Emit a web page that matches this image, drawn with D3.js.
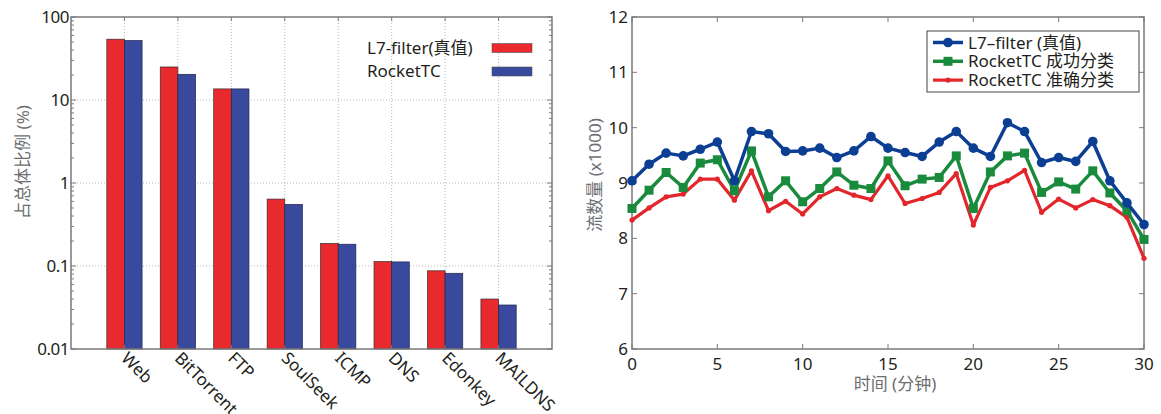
<!DOCTYPE html>
<meta charset="utf-8">
<style>
body { margin: 0; background: #fff; }
svg { font-family: "Noto Sans", "Noto Sans CJK SC", sans-serif; }
.frame { fill: none; stroke: #7a7a7a; stroke-width: 1.5; }
.tick-mark { stroke: #7a7a7a; stroke-width: 1; }
.grid { stroke: #b8b8b8; stroke-width: 1; stroke-dasharray: 1,2; }
.tlabel { fill: #231f20; font-size: 17px; }
.alabel { fill: #6d6e71; font-size: 17px; }
</style>
<script src="https://d3js.org/d3.v7.min.js"></script>
<svg id="chart" width="1161" height="414"></svg>
<script>
// left chart: share of traffic per protocol (log scale)
var protocols = ["Web", "BitTorrent", "FTP", "SoulSeek", "ICMP", "DNS", "Edonkey", "MAILDNS"];
var l7Share = [54, 25, 13.6, 0.64, 0.187, 0.113, 0.0875, 0.040];
var rocketShare = [52, 20.4, 13.6, 0.553, 0.183, 0.112, 0.0817, 0.0339];
var logTicks = [0.01, 0.1, 1, 10, 100];
var logTickLabels = ["0.01", "0.1", "1", "10", "100"];

// right chart: flow count over time (x1000)
var minutes = d3.range(0, 31);
var l7Flows = [9.04, 9.34, 9.54, 9.49, 9.61, 9.74, 9.04, 9.93, 9.89, 9.57, 9.58, 9.63, 9.46, 9.58, 9.84,
               9.63, 9.55, 9.48, 9.74, 9.93, 9.63, 9.48, 10.09, 9.93, 9.37, 9.46, 9.39, 9.75, 9.04, 8.64, 8.25];
var okFlows = [8.54, 8.87, 9.19, 8.92, 9.36, 9.42, 8.86, 9.58, 8.75, 9.04, 8.66, 8.90, 9.20, 8.96, 8.90,
               9.40, 8.95, 9.07, 9.10, 9.49, 8.54, 9.20, 9.49, 9.54, 8.83, 9.02, 8.89, 9.22, 8.82, 8.50, 7.98];
var exactFlows = [8.33, 8.55, 8.75, 8.80, 9.07, 9.07, 8.69, 9.22, 8.50, 8.67, 8.44, 8.75, 8.90, 8.78, 8.70,
                  9.13, 8.63, 8.72, 8.83, 9.17, 8.24, 8.92, 9.04, 9.23, 8.47, 8.71, 8.55, 8.70, 8.59, 8.38, 7.64];
var timeTicks = [0, 5, 10, 15, 20, 25, 30];
var flowTicks = [6, 7, 8, 9, 10, 11, 12];

var svg = d3.select("#chart");

// ---------- left ----------
var L = {left: 71, right: 552, top: 17, bottom: 349};
var x1 = d3.scaleLinear().domain([0, 9]).range([L.left, L.right]);
var y1 = d3.scaleLog().domain([0.01, 100]).range([L.bottom, L.top]);
var barW = 0.33;

var g1 = svg.append("g");

// grid
g1.selectAll(".hgrid").data([0.1, 1, 10]).enter().append("line")
    .attr("class", "grid")
    .attr("x1", L.left).attr("x2", L.right)
    .attr("y1", function(d) { return y1(d); }).attr("y2", function(d) { return y1(d); });
g1.selectAll(".vgrid").data(protocols).enter().append("line")
    .attr("class", "grid")
    .attr("x1", function(d, i) { return x1(i + 1); }).attr("x2", function(d, i) { return x1(i + 1); })
    .attr("y1", L.top).attr("y2", L.bottom);

// bars
g1.selectAll(".redbar").data(l7Share).enter().append("rect")
    .attr("x", function(d, i) { return x1(i + 1 - barW); })
    .attr("width", x1(barW) - x1(0))
    .attr("y", function(d) { return y1(d); })
    .attr("height", function(d) { return L.bottom - y1(d); })
    .attr("fill", "#e8292d").attr("stroke", "#3a2a2a").attr("stroke-width", 0.7);
g1.selectAll(".bluebar").data(rocketShare).enter().append("rect")
    .attr("x", function(d, i) { return x1(i + 1); })
    .attr("width", x1(barW) - x1(0))
    .attr("y", function(d) { return y1(d); })
    .attr("height", function(d) { return L.bottom - y1(d); })
    .attr("fill", "#39499d").attr("stroke", "#22264a").attr("stroke-width", 0.7);

// minor + major y ticks (inside, both sides)
var minor = [];
[0.01, 0.1, 1, 10].forEach(function(b) { for (var k = 2; k <= 9; k++) minor.push(b * k); });
[[L.left, 1], [L.right, -1]].forEach(function(s) {
  g1.selectAll(null).data(minor).enter().append("line").attr("class", "tick-mark")
      .attr("x1", s[0]).attr("x2", s[0] + s[1] * 3)
      .attr("y1", function(d) { return y1(d); }).attr("y2", function(d) { return y1(d); });
  g1.selectAll(null).data(logTicks).enter().append("line").attr("class", "tick-mark")
      .attr("x1", s[0]).attr("x2", s[0] + s[1] * 5)
      .attr("y1", function(d) { return y1(d); }).attr("y2", function(d) { return y1(d); });
});
[[L.top, 1], [L.bottom, -1]].forEach(function(s) {
  g1.selectAll(null).data(protocols).enter().append("line").attr("class", "tick-mark")
      .attr("x1", function(d, i) { return x1(i + 1); }).attr("x2", function(d, i) { return x1(i + 1); })
      .attr("y1", s[0]).attr("y2", s[0] + s[1] * 4);
});

g1.append("rect").attr("class", "frame")
    .attr("x", L.left).attr("y", L.top)
    .attr("width", L.right - L.left).attr("height", L.bottom - L.top);

g1.selectAll(".ylab").data(logTicks).enter().append("text")
    .attr("class", "tlabel").attr("font-size", "18px")
    .attr("x", L.left - 2).attr("y", function(d) { return y1(d); })
    .attr("dy", "0.35em").attr("text-anchor", "end")
    .attr("letter-spacing", "-0.5")
    .text(function(d, i) { return logTickLabels[i]; });

g1.selectAll(".xlab").data(protocols).enter().append("text")
    .attr("class", "tlabel").attr("font-size", "16px")
    .attr("transform", function(d, i) { return "translate(" + x1(i + 1) + "," + (L.bottom + 6) + ") rotate(45)"; })
    .attr("dy", "0.35em")
    .text(function(d) { return d; });

g1.append("text").attr("class", "alabel").attr("font-size", "19px")
    .attr("transform", "translate(29,162) rotate(-90)")
    .attr("text-anchor", "middle")
    .text("占总体比例 (%)");

// legend (no box)
var leg1 = [{name: "L7-filter(真值)", fill: "#e8292d"}, {name: "RocketTC", fill: "#39499d"}];
leg1.forEach(function(d, i) {
  var yy = 48 + i * 23.5;
  g1.append("text").attr("class", "tlabel").attr("font-size", "18px")
      .attr("x", 367).attr("y", yy).attr("dy", "0.35em").text(d.name);
  g1.append("rect").attr("x", 492).attr("y", yy - 4.5).attr("width", 40).attr("height", 9)
      .attr("fill", d.fill).attr("stroke", "#555").attr("stroke-width", 0.6);
});

// ---------- right ----------
var R = {left: 632, right: 1144, top: 17, bottom: 349};
var x2 = d3.scaleLinear().domain([0, 30]).range([R.left, R.right]);
var y2 = d3.scaleLinear().domain([6, 12]).range([R.bottom, R.top]);
var g2 = svg.append("g");

[[R.left, 1], [R.right, -1]].forEach(function(s) {
  g2.selectAll(null).data(flowTicks).enter().append("line").attr("class", "tick-mark")
      .attr("x1", s[0]).attr("x2", s[0] + s[1] * 5)
      .attr("y1", function(d) { return y2(d); }).attr("y2", function(d) { return y2(d); });
});
[[R.top, 1], [R.bottom, -1]].forEach(function(s) {
  g2.selectAll(null).data(timeTicks).enter().append("line").attr("class", "tick-mark")
      .attr("x1", function(d) { return x2(d); }).attr("x2", function(d) { return x2(d); })
      .attr("y1", s[0]).attr("y2", s[0] + s[1] * 5);
});
g2.append("rect").attr("class", "frame")
    .attr("x", R.left).attr("y", R.top)
    .attr("width", R.right - R.left).attr("height", R.bottom - R.top);

g2.selectAll(".ylab").data(flowTicks).enter().append("text")
    .attr("class", "tlabel").attr("font-size", "18px")
    .attr("x", R.left - 4).attr("y", function(d) { return y2(d); })
    .attr("dy", "0.35em").attr("text-anchor", "end")
    .text(function(d) { return d; });
g2.selectAll(".xlab").data(timeTicks).enter().append("text")
    .attr("class", "tlabel").attr("font-size", "18px")
    .attr("x", function(d) { return x2(d); }).attr("y", R.bottom + 15)
    .attr("dy", "0.35em").attr("text-anchor", "middle")
    .text(function(d) { return d; });

g2.append("text").attr("class", "alabel")
    .attr("transform", "translate(601,175) rotate(-90)")
    .attr("text-anchor", "middle")
    .text("流数量 (x1000)");
g2.append("text").attr("class", "alabel")
    .attr("x", 895).attr("y", 390).attr("text-anchor", "middle")
    .text("时间 (分钟)");

var series = [
  {name: "L7\u2013filter (真值)", values: l7Flows, color: "#0c3e93", width: 3.5, marker: "circle", size: 4.8},
  {name: "RocketTC 成功分类", values: okFlows, color: "#1a8b3d", width: 3.5, marker: "square", size: 9},
  {name: "RocketTC 准确分类", values: exactFlows, color: "#e2262b", width: 3.2, marker: "circle", size: 2.6}
];
var line = d3.line().x(function(d, i) { return x2(minutes[i]); }).y(function(d) { return y2(d); });

series.slice().reverse().forEach(function(s) {
  g2.append("path").datum(s.values)
      .attr("fill", "none").attr("stroke", s.color).attr("stroke-width", s.width)
      .attr("stroke-linejoin", "round").attr("d", line);
  if (s.marker === "circle") {
    g2.selectAll(null).data(s.values).enter().append("circle")
        .attr("cx", function(d, i) { return x2(minutes[i]); })
        .attr("cy", function(d) { return y2(d); })
        .attr("r", s.size).attr("fill", s.color);
  } else {
    g2.selectAll(null).data(s.values).enter().append("rect")
        .attr("x", function(d, i) { return x2(minutes[i]) - s.size / 2; })
        .attr("y", function(d) { return y2(d) - s.size / 2; })
        .attr("width", s.size).attr("height", s.size).attr("fill", s.color);
  }
});

// legend box
var lg = g2.append("g");
lg.append("rect").attr("x", 927).attr("y", 31).attr("width", 212).attr("height", 61)
    .attr("fill", "#fff").attr("stroke", "#444").attr("stroke-width", 1);
series.forEach(function(s, i) {
  var yy = 42.5 + i * 18.8;
  lg.append("line").attr("x1", 933).attr("x2", 963).attr("y1", yy).attr("y2", yy)
      .attr("stroke", s.color).attr("stroke-width", s.width);
  if (s.marker === "circle") {
    lg.append("circle").attr("cx", 948).attr("cy", yy).attr("r", s.size).attr("fill", s.color);
  } else {
    lg.append("rect").attr("x", 948 - s.size / 2).attr("y", yy - s.size / 2)
        .attr("width", s.size).attr("height", s.size).attr("fill", s.color);
  }
  lg.append("text").attr("class", "tlabel").attr("font-size", "15.5px")
      .attr("x", 968).attr("y", yy).attr("dy", "0.36em").text(s.name);
});
</script>
